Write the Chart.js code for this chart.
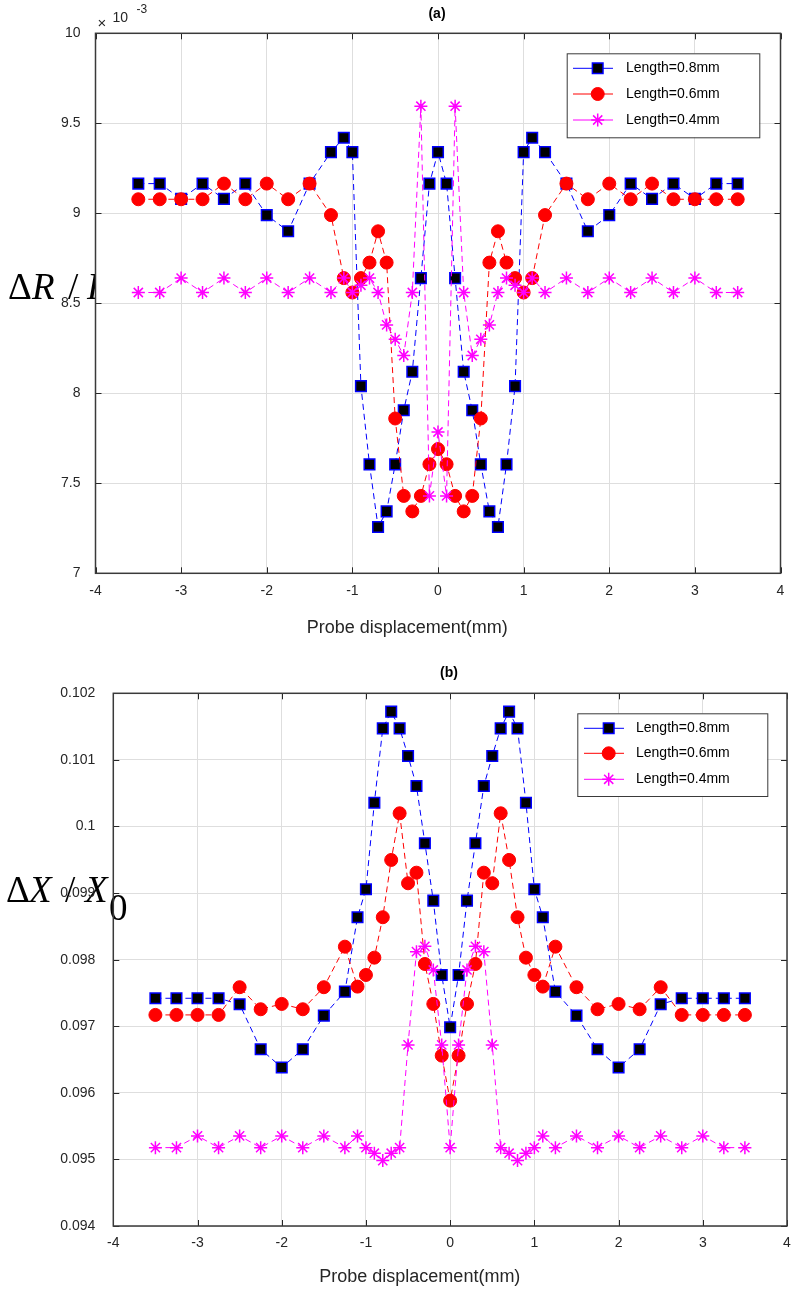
<!DOCTYPE html>
<html>
<head>
<meta charset="utf-8">
<script src="https://cdn.jsdelivr.net/npm/chart.js@4"></script>
<style>
  html, body { margin: 0; padding: 0; background: #fff; }
  canvas { display: block; }
</style>
</head>
<body>
<canvas id="chartA" width="796" height="645"></canvas>
<canvas id="chartB" width="796" height="650"></canvas>
<script>
// probe positions (mm), shared by every series
const xPos = [-3.5, -3.25, -3, -2.75, -2.5, -2.25, -2, -1.75, -1.5, -1.25,
  -1.1, -1, -0.9, -0.8, -0.7, -0.6, -0.5, -0.4, -0.3, -0.2, -0.1, 0,
  0.1, 0.2, 0.3, 0.4, 0.5, 0.6, 0.7, 0.8, 0.9, 1, 1.1,
  1.25, 1.5, 1.75, 2, 2.25, 2.5, 2.75, 3, 3.25, 3.5];

const seriesNames = ['Length=0.8mm', 'Length=0.6mm', 'Length=0.4mm'];

// (a) dR/R0, in units of 1e-3
const dR08 = [9.165, 9.165, 9.08, 9.165, 9.08, 9.165, 8.99, 8.90, 9.165, 9.34,
  9.42, 9.34, 8.04, 7.605, 7.257, 7.344, 7.605, 7.906, 8.12, 8.64, 9.165, 9.34,
  9.165, 8.64, 8.12, 7.906, 7.605, 7.344, 7.257, 7.605, 8.04, 9.34, 9.42,
  9.34, 9.165, 8.90, 8.99, 9.165, 9.08, 9.165, 9.08, 9.165, 9.165];
const dR06 = [9.078, 9.078, 9.078, 9.078, 9.165, 9.078, 9.165, 9.078, 9.165, 8.99,
  8.64, 8.56, 8.64, 8.726, 8.9, 8.726, 7.86, 7.43, 7.344, 7.43, 7.606, 7.69,
  7.606, 7.43, 7.344, 7.43, 7.86, 8.726, 8.9, 8.726, 8.64, 8.56, 8.64,
  8.99, 9.165, 9.078, 9.165, 9.078, 9.165, 9.078, 9.078, 9.078, 9.078];
const dR04 = [8.56, 8.56, 8.64, 8.56, 8.64, 8.56, 8.64, 8.56, 8.64, 8.56,
  8.64, 8.56, 8.6, 8.64, 8.56, 8.38, 8.30, 8.21, 8.56, 9.595, 7.43, 7.785,
  7.43, 9.595, 8.56, 8.21, 8.30, 8.38, 8.56, 8.64, 8.6, 8.56, 8.64,
  8.56, 8.64, 8.56, 8.64, 8.56, 8.64, 8.56, 8.64, 8.56, 8.56];

// (b) dX/X0
const dX08 = [0.09742, 0.09742, 0.09742, 0.09742, 0.09733, 0.096655, 0.09638, 0.096655, 0.09716, 0.09752,
  0.098637, 0.099057, 0.100357, 0.101474, 0.101724, 0.101474, 0.101059, 0.100608, 0.099748, 0.098886, 0.09777, 0.096985,
  0.09777, 0.098886, 0.099748, 0.100608, 0.101059, 0.101474, 0.101724, 0.101474, 0.100357, 0.099057, 0.098637,
  0.09752, 0.09716, 0.096655, 0.09638, 0.096655, 0.09733, 0.09742, 0.09742, 0.09742, 0.09742];
const dX06 = [0.09717, 0.09717, 0.09717, 0.09717, 0.097586, 0.097255, 0.097335, 0.097255, 0.097586, 0.098195,
  0.097595, 0.09777, 0.09803, 0.098637, 0.099497, 0.100198, 0.099147, 0.099306, 0.097935, 0.097335, 0.096559, 0.095883,
  0.096559, 0.097335, 0.097935, 0.099306, 0.099147, 0.100198, 0.099497, 0.098637, 0.09803, 0.09777, 0.097595,
  0.098195, 0.097586, 0.097255, 0.097335, 0.097255, 0.097586, 0.09717, 0.09717, 0.09717, 0.09717];
const dX04 = [0.095177, 0.095177, 0.095353, 0.095177, 0.095353, 0.095177, 0.095353, 0.095177, 0.095353, 0.095177,
  0.095353, 0.095177, 0.095093, 0.094982, 0.095093, 0.095177, 0.09672, 0.09812, 0.0982, 0.097845, 0.09672, 0.095177,
  0.09672, 0.097845, 0.0982, 0.09812, 0.09672, 0.095177, 0.095093, 0.094982, 0.095093, 0.095177, 0.095353,
  0.095177, 0.095353, 0.095177, 0.095353, 0.095177, 0.095353, 0.095177, 0.095353, 0.095177, 0.095177];

const xTitle = 'Probe displacement(mm)';
const FONT = '"Liberation Sans", Arial, sans-serif';
const SERIF = '"Liberation Serif", "Times New Roman", serif';
const AXIS = '#262626';

function toPoints(ys) {
    return xPos.map((x, i) => ({ x: x, y: ys[i] }));
}

function makeDatasets(s08, s06, s04) {
    return [
        { label: seriesNames[0], data: toPoints(s08), order: 3,
          borderColor: '#0000ff', backgroundColor: '#000000',
          pointStyle: 'rect', pointRadius: 7.5, pointBorderColor: '#0000ff', pointBorderWidth: 1.5 },
        { label: seriesNames[1], data: toPoints(s06), order: 2,
          borderColor: '#ff0000', backgroundColor: '#ff0000',
          pointStyle: 'circle', pointRadius: 6.5, pointBorderColor: '#ff0000', pointBorderWidth: 1 },
        { label: seriesNames[2], data: toPoints(s04), order: 1,
          borderColor: '#ff00ff', backgroundColor: '#ff00ff',
          pointStyle: 'star', pointRadius: 6.5, pointBorderColor: '#ff00ff', pointBorderWidth: 1.5 }
    ].map(d => Object.assign(d, { borderWidth: 1, borderDash: [6, 4], pointHoverRadius: d.pointRadius }));
}

// frame, inward ticks, titles, y label and legend
const deco = {
    id: 'deco',
    beforeDraw(chart, args, o) {
        const ctx = chart.ctx, a = chart.chartArea;
        ctx.save();
        ctx.fillStyle = '#fff';
        ctx.fillRect(0, 0, chart.width, chart.height);
        if (o.clipLabel) {
            ctx.beginPath();
            ctx.rect(0, 0, a.left, chart.height);
            ctx.clip();
        }
        ctx.fillStyle = '#000';
        ctx.textBaseline = 'alphabetic';
        ctx.textAlign = 'left';
        o.yLabel.forEach(p => {
            ctx.font = p.font;
            ctx.fillText(p.t, p.x, p.y);
        });
        ctx.restore();
    },
    afterDraw(chart, args, o) {
        const ctx = chart.ctx, a = chart.chartArea;
        const sx = chart.scales.x, sy = chart.scales.y;
        ctx.save();
        ctx.strokeStyle = AXIS;
        ctx.lineWidth = 1;
        ctx.beginPath();
        sx.ticks.forEach(t => {
            const px = Math.round(sx.getPixelForValue(t.value)) + 0.5;
            ctx.moveTo(px, a.bottom); ctx.lineTo(px, a.bottom - 6);
            ctx.moveTo(px, a.top); ctx.lineTo(px, a.top + 6);
        });
        sy.ticks.forEach(t => {
            const py = Math.round(sy.getPixelForValue(t.value)) + 0.5;
            ctx.moveTo(a.left, py); ctx.lineTo(a.left + 6, py);
            ctx.moveTo(a.right, py); ctx.lineTo(a.right - 6, py);
        });
        ctx.stroke();
        ctx.lineWidth = 1.5;
        ctx.strokeStyle = '#3a3a3a';
        ctx.strokeRect(a.left, a.top, a.right - a.left, a.bottom - a.top);

        // title and x-axis title
        ctx.fillStyle = '#000';
        ctx.textAlign = 'center';
        ctx.textBaseline = 'middle';
        ctx.font = 'bold 14px ' + FONT;
        ctx.fillText(o.title, o.titleX, o.titleY);
        ctx.fillStyle = AXIS;
        ctx.font = '18px ' + FONT;
        ctx.fillText(xTitle, a.left + (a.right - a.left) * 0.455, o.xTitleY);

        // exponent marker
        if (o.exponent) {
            ctx.textAlign = 'left';
            ctx.textBaseline = 'alphabetic';
            ctx.font = '15px ' + FONT;
            ctx.fillText('\u00d7', a.left + 2, a.top - 5);
            ctx.font = '14px ' + FONT;
            ctx.fillText('10', a.left + 17, a.top - 11);
            ctx.font = '12px ' + FONT;
            ctx.fillText(o.exponent, a.left + 41, a.top - 20);
        }

        // legend box
        const L = o.legend;
        ctx.fillStyle = '#fff';
        ctx.fillRect(L.x0, L.y0, L.x1 - L.x0, L.y1 - L.y0);
        ctx.lineWidth = 1;
        ctx.strokeStyle = '#3a3a3a';
        ctx.strokeRect(L.x0 + 0.5, L.y0 + 0.5, L.x1 - L.x0, L.y1 - L.y0);
        chart.data.datasets.forEach((d, i) => {
            const y = L.rows[i];
            ctx.strokeStyle = d.borderColor;
            ctx.lineWidth = 1;
            ctx.setLineDash([]);
            ctx.beginPath();
            ctx.moveTo(L.line0, y); ctx.lineTo(L.line1, y);
            ctx.stroke();
            ctx.fillStyle = d.backgroundColor;
            ctx.strokeStyle = d.pointBorderColor;
            ctx.lineWidth = d.pointBorderWidth;
            Chart.helpers.drawPoint(ctx, { pointStyle: d.pointStyle, radius: d.pointRadius, rotation: 0, borderWidth: d.pointBorderWidth }, L.marker, y);
            ctx.fillStyle = '#000';
            ctx.font = '14px ' + FONT;
            ctx.textAlign = 'left';
            ctx.textBaseline = 'middle';
            ctx.fillText(d.label, L.text, y);
        });
        ctx.restore();
    }
};

function buildChart(id, datasets, box, yOpts, decoOpts) {
    return new Chart(document.getElementById(id), {
        type: 'line',
        data: { datasets: datasets },
        options: {
            responsive: false,
            animation: false,
            events: [],
            layout: { padding: { top: box.top, right: box.right, left: 0, bottom: 0 } },
            plugins: { legend: { display: false }, tooltip: { enabled: false }, deco: decoOpts },
            scales: {
                x: {
                    type: 'linear', min: -4, max: 4,
                    afterFit: s => { s.height = box.xHeight; s.paddingLeft = 0; s.paddingRight = 0; },
                    ticks: { stepSize: 1, padding: 9, color: AXIS, font: { family: FONT, size: 14 } },
                    grid: { color: '#dedede', drawTicks: false },
                    border: { display: false }
                },
                y: Object.assign({
                    type: 'linear',
                    afterFit: s => { s.width = box.left; },
                    grid: { color: '#dedede', drawTicks: false },
                    border: { display: false }
                }, yOpts)
            }
        },
        plugins: [deco]
    });
}

buildChart('chartA', makeDatasets(dR08, dR06, dR04),
    { top: 33.3, right: 15.5, left: 95.5, xHeight: 71.7 },
    { min: 7, max: 10,
      ticks: { stepSize: 0.5, padding: 15, color: AXIS, font: { family: FONT, size: 14 },
               callback: v => String(+v.toFixed(1)) } },
    { title: '(a)', titleX: 437, titleY: 14, xTitleY: 628, exponent: '-3', clipLabel: true,
      yLabel: [
        { t: '\u0394', x: 8, y: 299, font: '37px ' + SERIF },
        { t: 'R', x: 32, y: 299, font: 'italic 37px ' + SERIF },
        { t: '/', x: 68, y: 299, font: '37px ' + SERIF },
        { t: 'R', x: 87, y: 299, font: 'italic 37px ' + SERIF }
      ],
      legend: { x0: 566.7, y0: 53.3, x1: 759.3, y1: 137.3, rows: [68.3, 94, 120],
                line0: 573, line1: 613, marker: 597.7, text: 626 } });

buildChart('chartB', makeDatasets(dX08, dX06, dX04),
    { top: 48.3, right: 8.7, left: 113.3, xHeight: 69 },
    { min: 0.094, max: 0.102,
      ticks: { stepSize: 0.001, padding: 18, color: AXIS, font: { family: FONT, size: 14 },
               callback: v => String(+v.toFixed(3)) } },
    { title: '(b)', titleX: 449, titleY: 28, xTitleY: 632, clipLabel: false,
      yLabel: [
        { t: '\u0394', x: 6, y: 257, font: '37px ' + SERIF },
        { t: 'X', x: 29, y: 257, font: 'italic 37px ' + SERIF },
        { t: '/', x: 65, y: 257, font: '37px ' + SERIF },
        { t: 'X', x: 85, y: 257, font: 'italic 37px ' + SERIF },
        { t: '0', x: 109, y: 275, font: '37px ' + SERIF }
      ],
      legend: { x0: 577.3, y0: 68.3, x1: 767.3, y1: 151, rows: [83.3, 108.3, 134.3],
                line0: 584, line1: 624, marker: 608.7, text: 636 } });
</script>
</body>
</html>
